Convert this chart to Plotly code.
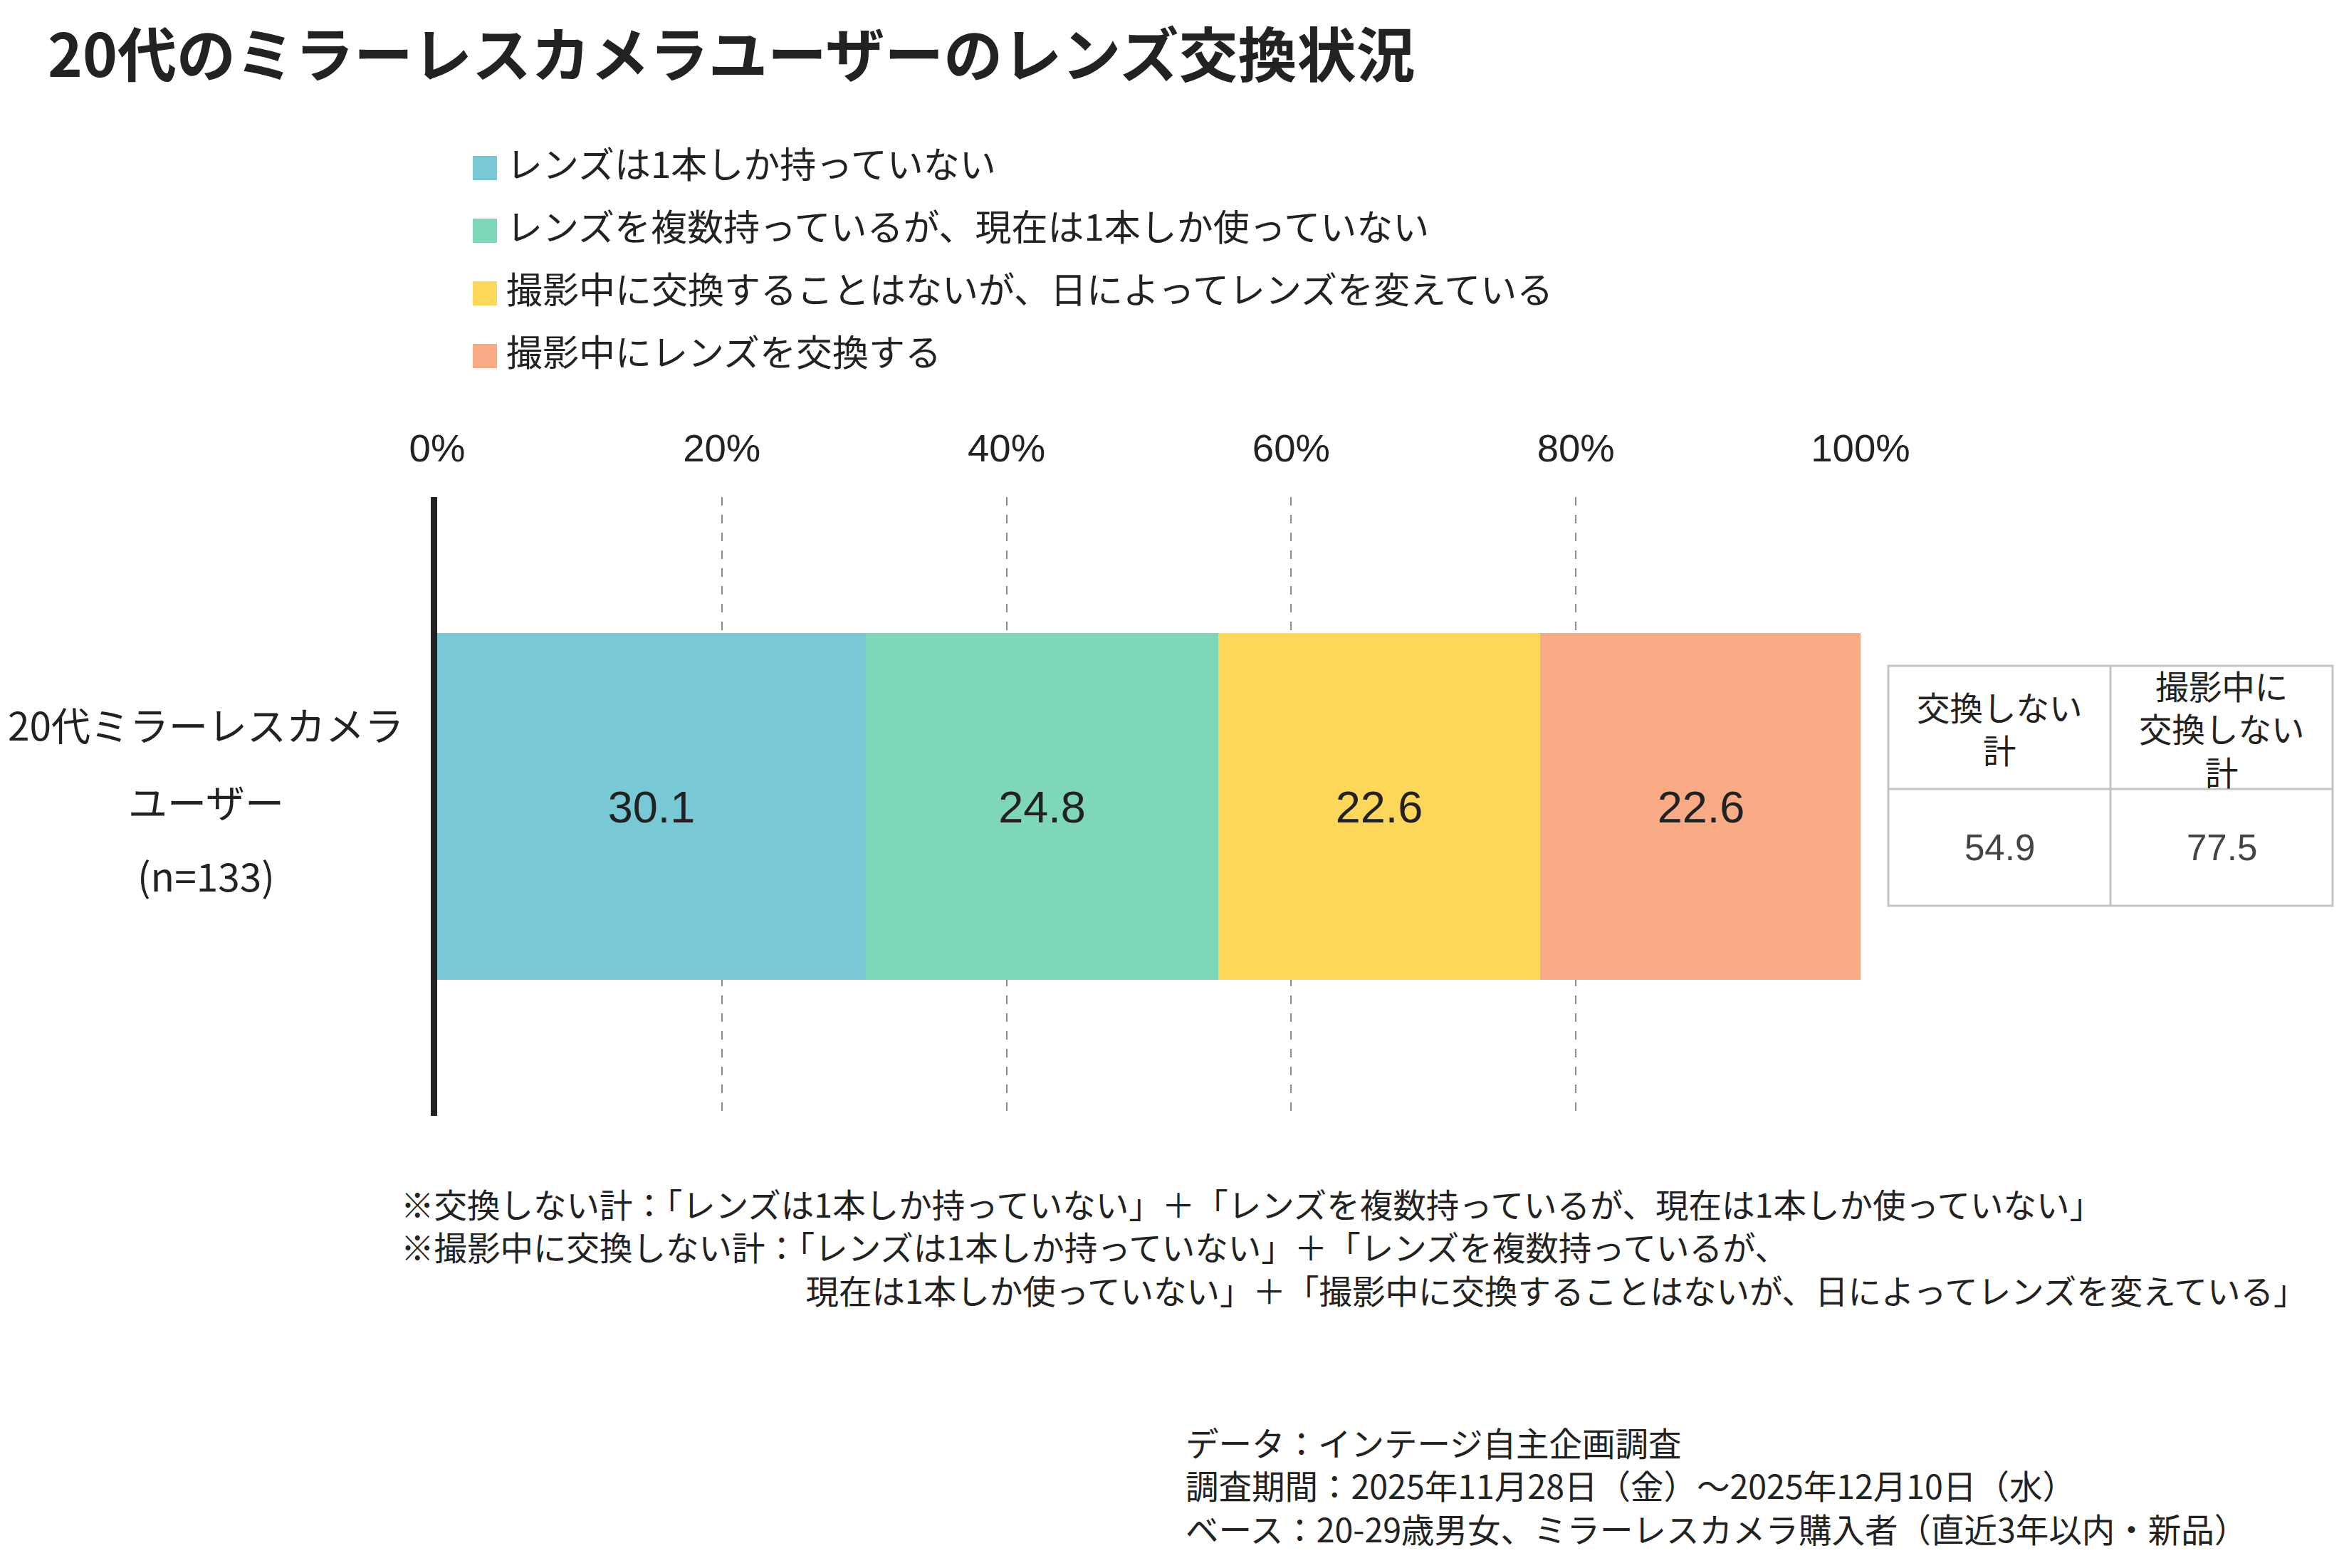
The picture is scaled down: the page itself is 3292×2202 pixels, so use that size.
import plotly.graph_objects as go

# ---------------- data ----------------
categories = ["20代ミラーレスカメラユーザー(n=133)"]
series_names = [
    "レンズは1本しか持っていない",
    "レンズを複数持っているが、現在は1本しか使っていない",
    "撮影中に交換することはないが、日によってレンズを変えている",
    "撮影中にレンズを交換する",
]
series_values = [30.1, 24.8, 22.6, 22.6]
series_colors = ["#78C8D6", "#7FD7B9", "#FDD75A", "#F8AB85"]
x_tick_values = [0, 20, 40, 60, 80, 100]
x_tick_labels = ["0%", "20%", "40%", "60%", "80%", "100%"]
category_label_lines = ["20代ミラーレスカメラ", "ユーザー", "(n=133)"]
table_headers = ["交換しない<br>計", "撮影中に<br>交換しない<br>計"]
table_values = [round(sum(series_values[:2]), 1), round(sum(series_values[:3]), 1)]
title_text = "20代のミラーレスカメラユーザーのレンズ交換状況"
footnote_lines = [
    "※交換しない計：「レンズは1本しか持っていない」＋「レンズを複数持っているが、現在は1本しか使っていない」",
    "※撮影中に交換しない計：「レンズは1本しか持っていない」＋「レンズを複数持っているが、",
    "現在は1本しか使っていない」＋「撮影中に交換することはないが、日によってレンズを変えている」",
]
source_lines = [
    "データ：インテージ自主企画調査",
    "調査期間：2025年11月28日（金）～2025年12月10日（水）",
    "ベース：20-29歳男女、ミラーレスカメラ購入者（直近3年以内・新品）",
]

# ---------------- layout helpers ----------------
W, H = 3292, 2202
OX, OY = 7, 9  # page offset compensation
JP = "Noto Sans CJK JP"
NUM = "Liberation Sans, Arial, Noto Sans CJK JP"
TXT = "#222222"


def px(x):
    return (x - OX) / W


def py(y):
    return 1 - (y - OY) / H


fig = go.Figure()

for name, val, col in zip(series_names, series_values, series_colors):
    fig.add_trace(go.Bar(
        y=categories, x=[val], name=name, orientation="h",
        marker=dict(color=col, line=dict(width=0)),
        width=0.56,
        text=[f"{val:.1f}"], textposition="inside", insidetextanchor="middle",
        textangle=0,
        textfont=dict(family=NUM, size=63, color=TXT),
        showlegend=False, hoverinfo="skip",
    ))

shapes = []
annotations = []

# title
annotations.append(dict(
    text=f"<b>{title_text}</b>", x=px(64), y=py(73), xref="paper", yref="paper",
    xanchor="left", yanchor="middle", showarrow=False,
    font=dict(family=JP, size=83, color=TXT),
))

# manual legend (large square swatches)
for i, (name, col) in enumerate(zip(series_names, series_colors)):
    top = 220 + 88 * i
    shapes.append(dict(type="rect", xref="paper", yref="paper",
                       x0=px(663), x1=px(697), y0=py(top + 34), y1=py(top),
                       fillcolor=col, line=dict(width=0)))
    annotations.append(dict(
        text=name, x=px(708), y=py(top + 9), xref="paper", yref="paper",
        xanchor="left", yanchor="middle", showarrow=False,
        font=dict(family=JP, size=51, color=TXT),
    ))

# category label (centered, widely spaced lines)
for line, shift in zip(category_label_lines, [117, 9, -95]):
    annotations.append(dict(
        text=line, x=px(288), y=categories[0], xref="paper", yref="y",
        xanchor="center", yanchor="middle", yshift=shift, showarrow=False,
        font=dict(family=JP, size=55, color=TXT),
    ))

# side table
tx0, tx1, txm = 2651, 3275, 2963
ty0, ty1, tym = 936, 1273, 1109
tline = dict(color="#C4C4C4", width=3)
shapes.append(dict(type="rect", xref="paper", yref="paper",
                   x0=px(tx0), x1=px(tx1), y0=py(ty1), y1=py(ty0),
                   line=tline, fillcolor="rgba(0,0,0,0)"))
shapes.append(dict(type="line", xref="paper", yref="paper",
                   x0=px(txm), x1=px(txm), y0=py(ty1), y1=py(ty0), line=tline))
shapes.append(dict(type="line", xref="paper", yref="paper",
                   x0=px(tx0), x1=px(tx1), y0=py(tym), y1=py(tym), line=tline))
col_centers = [(tx0 + txm) / 2, (txm + tx1) / 2]
for cx, hdr, val in zip(col_centers, table_headers, table_values):
    annotations.append(dict(
        text=hdr, x=px(cx), y=py((ty0 + tym) / 2), xref="paper", yref="paper",
        xanchor="center", yanchor="middle", showarrow=False, align="center",
        font=dict(family=JP, size=46.5, color=TXT),
    ))
    annotations.append(dict(
        text=f"{val:.1f}", x=px(cx), y=py((tym + ty1) / 2), xref="paper", yref="paper",
        xanchor="center", yanchor="middle", showarrow=False,
        font=dict(family=NUM, size=51, color="#444444"),
    ))

# footnotes (one block, third line indented)
indent = "\u3000" * 12 + "\u00a0"
footnote_text = "<br>".join([footnote_lines[0], footnote_lines[1], indent + footnote_lines[2]])
annotations.append(dict(
    text=footnote_text, x=px(560), y=py(1751), xref="paper", yref="paper",
    xanchor="left", yanchor="middle", align="left", showarrow=False,
    font=dict(family=JP, size=46.5, color=TXT),
))

# source (one block)
annotations.append(dict(
    text="<br>".join(source_lines), x=px(1662), y=py(2086), xref="paper", yref="paper",
    xanchor="left", yanchor="middle", align="left", showarrow=False,
    font=dict(family=JP, size=46.5, color=TXT),
))

fig.update_layout(
    width=W, height=H, autosize=False,
    margin=dict(l=0, r=0, t=0, b=0, pad=0, autoexpand=False),
    paper_bgcolor="white", plot_bgcolor="white",
    barmode="stack", bargap=0,
    showlegend=False,
    shapes=shapes, annotations=annotations,
    xaxis=dict(
        domain=[px(613), px(2612)], range=[0, 100], side="top",
        tickvals=x_tick_values, ticktext=x_tick_labels,
        tickfont=dict(family=NUM, size=54.5, color=TXT),
        ticks="outside", ticklen=27, tickcolor="rgba(0,0,0,0)",
        showgrid=True, gridcolor="#8C8C8C", gridwidth=2, griddash="12px,13px",
        zeroline=False, showline=False, fixedrange=True, automargin=False,
    ),
    yaxis=dict(
        domain=[py(1568), py(699)], range=[-0.5, 0.5],
        showticklabels=False, showgrid=False, zeroline=False,
        showline=True, linecolor=TXT, linewidth=9, ticks="",
        fixedrange=True, automargin=False,
    ),
)

fig.write_html("out.html")
